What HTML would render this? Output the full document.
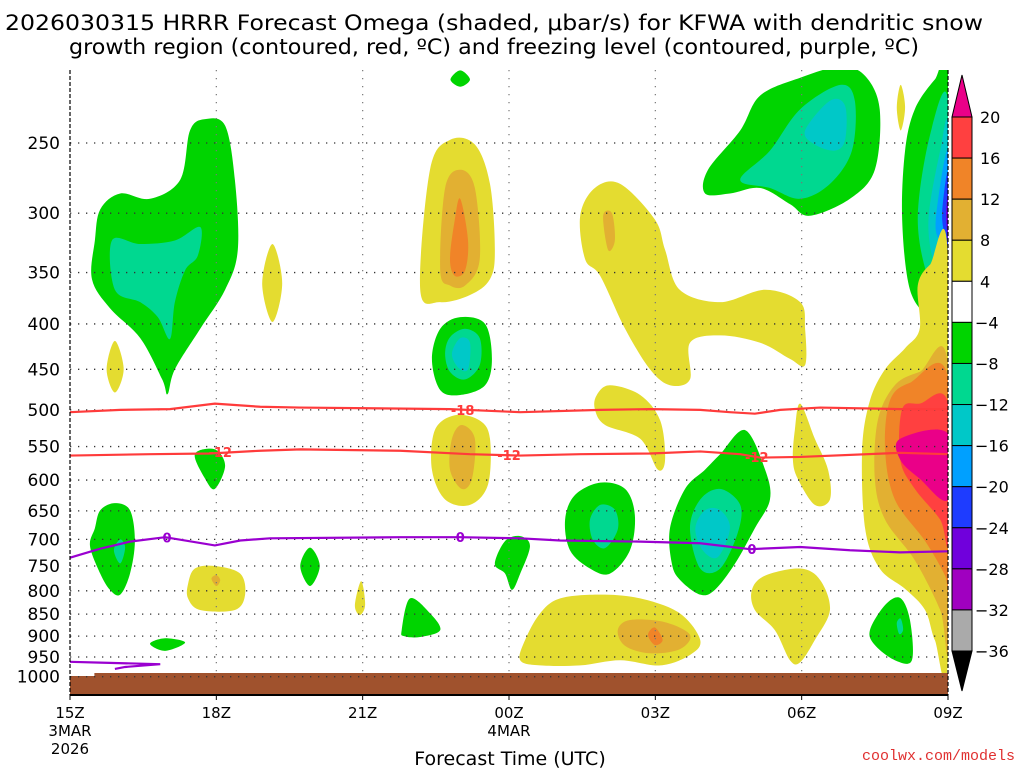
<!DOCTYPE html>
<html><head><meta charset="utf-8"><style>
body{margin:0;background:#fff;}
svg{display:block;font-family:"DejaVu Sans","Liberation Sans",sans-serif;}
</style></head><body>
<svg id="chart" width="1024" height="768" viewBox="0 0 1024 768" xmlns="http://www.w3.org/2000/svg">
<text x="494" y="30" font-size="21" text-anchor="middle" textLength="978" lengthAdjust="spacingAndGlyphs">2026030315 HRRR Forecast Omega (shaded, μbar/s) for KFWA with dendritic snow</text>
<text x="494" y="54" font-size="21" text-anchor="middle" textLength="850" lengthAdjust="spacingAndGlyphs">growth region (contoured, red, ºC) and freezing level (contoured, purple, ºC)</text>
<g id="fills"></g>
<g id="grid"></g>
<g id="lines"></g>
<g id="axes"></g>
<g id="cbar"></g>
<text x="510" y="765" font-size="19" text-anchor="middle">Forecast Time (UTC)</text>
<text x="1015" y="760" font-size="15" fill="#e03030" text-anchor="end" font-family="Liberation Mono, monospace">coolwx.com/models</text>
</svg>
<script>
const pLevels=[250,300,350,400,450,500,550,600,650,700,750,800,850,900,950,1000];
const hourTicks=[0,3,6,9,12,15,18];
const hourLabels=["15Z","18Z","21Z","00Z","03Z","06Z","09Z"];
const dateLabels=[["3MAR","2026"],[],[],["4MAR"],[],[],[]];
const cbarLevels=[20,16,12,8,4,-4,-8,-12,-16,-20,-24,-28,-32,-36];
const cbarColors=["#ff4040","#f08428","#e2b032","#e4dc30","#ffffff","#00d400","#00d890","#00c8c8","#00a0ff","#1e3cff","#7000dc","#a000c0","#aaaaaa"];
const levelColor={y:"#e4dc30",dy:"#e2b032",o:"#f08428",r:"#ff4040",m:"#ea0088",g:"#00d400",t:"#00d890",c:"#00c8c8",lb:"#00a0ff",b:"#1e3cff",p:"#7000dc"};
const blobs=[
["g",[[0.51,322],[0.62,297],[1.03,285],[1.64,289],[2.26,275],[2.46,242],[2.77,235],[3.18,239],[3.38,275],[3.44,330],[3.18,366],[2.67,405],[2.15,450],[2.0,480],[1.89,462],[1.44,415],[0.82,384],[0.45,356]]],
["t",[[0.86,322],[1.44,325],[2.15,322],[2.67,311],[2.62,335],[2.36,348],[2.15,378],[2.05,416],[1.8,393],[1.44,378],[0.92,366]]],
["g",[[13.02,285],[13.08,268],[13.74,242],[14.15,221],[14.97,211],[15.79,205],[16.3,210],[16.6,229],[16.5,268],[15.99,289],[15.17,302],[14.76,293],[14.15,281],[13.53,285]]],
["t",[[13.74,275],[14.35,255],[14.97,229],[15.79,215],[16.09,224],[16.03,255],[15.58,278],[14.97,289],[14.35,281]]],
["c",[[15.07,242],[15.58,224],[15.89,227],[15.89,248],[15.68,255],[15.27,251]]],
["g",[[17.12,255],[17.32,229],[17.73,212],[18,207],[18,393],[17.63,393],[17.22,366],[17.06,305]]],
["t",[[17.38,305],[17.63,245],[18,224],[18,378],[17.63,360]]],
["c",[[17.6,305],[17.84,255],[18,240],[18,366],[17.73,345]]],
["lb",[[17.75,305],[18,255],[18,348],[17.84,325]]],
["b",[[17.88,300],[18,270],[18,335],[17.94,320]]],
["p",[[17.96,300],[18,285],[18,322],[17.98,315]]],
["y",[[16.95,228],[17.03,215],[17.12,228],[17.03,242]]],
["y",[[18,336],[17.63,343],[17.38,362],[17.42,405],[17.12,426],[16.71,450],[16.4,488],[16.24,554],[16.3,680],[16.6,755],[17.12,796],[17.53,841],[17.73,909],[18,945]]],
["dy",[[18,445],[17.42,453],[16.91,469],[16.56,514],[16.5,598],[16.71,665],[17.32,739],[17.84,841],[18,909]]],
["o",[[18,460],[17.22,466],[16.81,488],[16.71,554],[16.91,631],[17.53,703],[17.94,769],[18,796]]],
["r",[[18,492],[17.42,492],[17.06,499],[17.02,569],[17.32,614],[17.84,665],[18,703]]],
["m",[[18,532],[17.02,539],[17.02,569],[17.42,598],[18,631]]],
["g",[[16.4,886],[16.71,830],[17.02,815],[17.22,863],[17.26,958],[16.91,958],[16.5,921]]],
["t",[[16.95,870],[17.03,860],[17.08,885],[17.0,895]]],
["y",[[7.18,366],[7.38,268],[7.79,248],[8.3,251],[8.61,278],[8.71,330],[8.61,356],[8.2,371],[7.59,378]]],
["dy",[[7.59,348],[7.69,281],[8.0,268],[8.3,281],[8.4,338],[8.1,362],[7.79,362]]],
["o",[[7.79,338],[7.89,305],[8.0,289],[8.16,322],[8.1,348],[7.89,353]]],
["g",[[7.8,212],[8.0,207],[8.2,212],[8.0,216]]],
["g",[[7.42,438],[7.59,405],[8.0,393],[8.51,400],[8.65,438],[8.51,469],[8.0,481],[7.59,475]]],
["t",[[7.69,432],[7.79,414],[8.1,405],[8.4,415],[8.4,445],[8.1,462],[7.79,453]]],
["c",[[7.83,432],[8.0,415],[8.2,420],[8.16,450],[7.96,448]]],
["y",[[7.42,584],[7.48,527],[7.89,507],[8.4,514],[8.61,539],[8.57,607],[8.2,640],[7.69,631]]],
["dy",[[7.79,584],[7.83,539],[8.03,520],[8.3,539],[8.24,598],[8.03,614]]],
["y",[[0.75,450],[0.92,418],[1.1,450],[0.92,478]]],
["y",[[3.94,360],[4.15,325],[4.35,360],[4.15,398]]],
["g",[[2.56,561],[2.97,554],[3.18,578],[2.97,614],[2.77,598]]],
["g",[[0.51,680],[0.62,649],[0.92,637],[1.23,649],[1.33,703],[1.23,765],[1.03,808],[0.82,798],[0.62,765],[0.41,712]]],
["t",[[0.9,720],[1.03,700],[1.13,715],[1.03,745]]],
["y",[[2.42,786],[2.56,755],[2.97,750],[3.49,765],[3.59,808],[3.38,841],[2.67,841],[2.42,816]]],
["dy",[[2.9,775],[3.0,768],[3.08,778],[3.0,790]]],
["g",[[4.72,750],[4.92,715],[5.12,750],[4.92,790]]],
["y",[[5.84,830],[5.97,780],[6.05,830],[5.94,852]]],
["g",[[6.8,886],[6.97,816],[7.38,848],[7.59,886],[7.18,902],[6.85,900]]],
["g",[[8.71,746],[8.92,703],[9.23,694],[9.43,712],[9.23,765],[9.06,798],[8.92,765]]],
["g",[[10.15,665],[10.35,624],[10.87,604],[11.38,614],[11.58,657],[11.48,720],[11.07,765],[10.66,755],[10.25,720]]],
["t",[[10.66,665],[10.87,640],[11.17,648],[11.23,682],[10.97,716],[10.72,701]]],
["g",[[12.3,680],[12.61,614],[13.02,584],[13.33,561],[13.84,527],[14.25,584],[14.35,631],[14.04,680],[13.63,746],[13.22,798],[12.92,808],[12.51,778],[12.34,746]]],
["t",[[12.71,680],[12.92,631],[13.33,614],[13.74,640],[13.69,688],[13.33,755],[12.92,755]]],
["c",[[12.82,680],[13.02,649],[13.33,649],[13.53,680],[13.28,733],[12.97,720]]],
["y",[[10.46,302],[10.76,281],[11.28,278],[11.99,305],[12.2,330],[12.5,366],[13.33,378],[14.25,366],[14.97,378],[15.07,405],[15.07,445],[14.76,438],[14.15,420],[13.33,412],[12.71,420],[12.71,462],[12.3,469],[11.89,450],[11.38,405],[10.87,353],[10.56,338]]],
["dy",[[10.93,302],[11.11,300],[11.17,322],[11.03,330]]],
["y",[[10.8,481],[11.07,469],[11.69,481],[12.1,514],[12.2,569],[12.05,584],[11.69,539],[10.97,520],[10.76,499]]],
["y",[[14.86,527],[14.97,492],[15.27,539],[15.54,584],[15.58,631],[15.27,640],[14.92,598],[14.82,569]]],
["y",[[13.98,798],[14.25,769],[14.97,755],[15.38,778],[15.58,841],[15.27,909],[14.97,963],[14.76,958],[14.45,886],[14.04,841]]],
["y",[[9.23,958],[9.33,909],[9.64,848],[10.05,816],[10.87,808],[11.69,816],[12.5,848],[12.92,909],[12.71,945],[12.1,971],[11.28,958],[10.46,971],[9.64,971]]],
["dy",[[11.23,886],[11.48,863],[12.2,868],[12.71,897],[12.5,931],[11.89,941],[11.38,923]]],
["o",[[11.85,897],[11.99,880],[12.15,909],[11.99,921]]],
["g",[[1.64,918],[1.95,905],[2.36,915],[1.95,935]]]
];
const redLineA=[[0,503],[1.03,500],[2.05,499],[2.97,492],[3.9,496],[4.72,497],[7.79,499],[9.23,503],[10.87,500],[11.89,499],[12.92,500],[13.53,503],[14.04,505],[14.56,500],[15.38,497],[17.02,499],[18,499]];
const redLineB=[[0,563],[1.64,561],[2.87,560],[3.9,556],[4.72,554],[6.77,556],[8.2,561],[9.23,563],[10.46,561],[11.89,560],[12.92,557],[13.74,561],[14.15,566],[14.97,565],[17.02,559],[18,561]];
const redLabels=[[8.05,500,"-18"],[3.08,558,"-12"],[9.0,562,"-12"],[14.08,565,"-12"]];
const purpleLine=[[0,734],[0.62,717],[1.23,704],[1.95,696],[2.97,711],[3.49,702],[4.1,698],[6.77,696],[8.0,696],[9.23,698],[10.05,702],[11.69,704],[12.92,707],[13.94,718],[14.97,714],[15.99,720],[17.02,724],[18,722]];
const purpleLabels=[[1.99,697,"0"],[8.0,696,"0"],[13.98,718,"0"]];
const purpleSfc=[[0,962],[0.62,964],[1.85,968],[1.13,975],[0.92,980]];

const X0=70,X1=948,Y250=143,SC=385;
const xs=h=>X0+h*(X1-X0)/18;
const ys=p=>Y250+Math.log(p/250)*SC;
const NS="http://www.w3.org/2000/svg";
function mk(tag,attrs,parent){const e=document.createElementNS(NS,tag);for(const k in attrs)e.setAttribute(k,attrs[k]);parent.appendChild(e);return e;}
function smooth(pts){const P=pts.map(([h,p])=>[xs(h),ys(p)]);const n=P.length;let d=`M${P[0][0]},${P[0][1]}`;
for(let i=0;i<n;i++){const p0=P[(i-1+n)%n],p1=P[i],p2=P[(i+1)%n],p3=P[(i+2)%n];
d+=`C${p1[0]+(p2[0]-p0[0])/6},${p1[1]+(p2[1]-p0[1])/6} ${p2[0]-(p3[0]-p1[0])/6},${p2[1]-(p3[1]-p1[1])/6} ${p2[0]},${p2[1]}`;}return d+"Z";}
function linePath(pts){return pts.map(([h,p],i)=>(i?"L":"M")+xs(h)+","+ys(p)).join("");}
const svg=document.getElementById("chart");
const defs=mk("defs",{},svg);
const cp=mk("clipPath",{id:"plotclip"},defs);mk("rect",{x:X0,y:70,width:X1-X0,height:625},cp);
const fills=document.getElementById("fills");fills.setAttribute("clip-path","url(#plotclip)");
blobs.forEach(([lv,pts])=>{const e=mk("path",{d:smooth(pts),fill:levelColor[lv]},fills);

});
// ground
const g1=mk("path",{d:`M${X0},676 L${xs(0.5)},676 L${xs(0.5)},673 L${X1},673 L${X1},695 L${X0},695Z`,fill:"#a0522d"},fills);


// grid
const grid=document.getElementById("grid");
pLevels.forEach(p=>{const e=mk("line",{x1:X0,x2:X1,y1:ys(p),y2:ys(p),stroke:"#333","stroke-width":1.3,"stroke-dasharray":"1.3 6.7"},grid);

});
hourTicks.slice(1,-1).forEach(h=>{const e=mk("line",{x1:xs(h),x2:xs(h),y1:70,y2:673,stroke:"#777","stroke-width":1.2,"stroke-dasharray":"1.3 6.7"},grid);

});
// lines
const lines=document.getElementById("lines");
[[redLineA,"#ff3b3b"],[redLineB,"#ff3b3b"],[purpleLine,"#9a00d0"]].forEach(([d,c])=>{const e=mk("path",{d:linePath(d),fill:"none",stroke:c,"stroke-width":2.2},lines);

});
{const e=mk("path",{d:linePath(purpleSfc),fill:"none",stroke:"#9a00d0","stroke-width":2.2},lines);

}
function lab(arr,c){arr.forEach(([h,p,t])=>{const x=xs(h),y=ys(p);
mk("rect",{x:x-11,y:y-7,width:22,height:14,fill:"#fff",opacity:0},lines);
const e=mk("text",{x:x,y:y+5,"font-size":13,"font-weight":"bold",fill:c,"text-anchor":"middle"},lines);e.textContent=t;

});}
lab(redLabels,"#ff3b3b");lab(purpleLabels,"#9a00d0");
// axes
const ax=document.getElementById("axes");
mk("line",{x1:X0,x2:X0,y1:70,y2:695,stroke:"#000","stroke-width":1.2,"stroke-dasharray":"4 2"},ax);
mk("line",{x1:X1,x2:X1,y1:70,y2:695,stroke:"#000","stroke-width":1.2,"stroke-dasharray":"4 2"},ax);
mk("line",{x1:X0,x2:X1,y1:695,y2:695,stroke:"#000","stroke-width":2},ax);
pLevels.forEach(p=>{const e=mk("text",{x:60,y:ys(p)+6,"font-size":17,"text-anchor":"end"},ax);e.textContent=p;

});
hourTicks.forEach((h,i)=>{mk("line",{x1:xs(h),x2:xs(h),y1:695,y2:700,stroke:"#000"},ax);
const e=mk("text",{x:xs(h),y:718,"font-size":15,"text-anchor":"middle"},ax);e.textContent=hourLabels[i];


dateLabels[i].forEach((t,j)=>{const d=mk("text",{x:xs(h),y:736+j*18,"font-size":15,"text-anchor":"middle"},ax);d.textContent=t;

});});
// colorbar
const cb=document.getElementById("cbar");
const CX=952,CW=20,CT=117,CS=(651-117)/13;
mk("path",{d:`M${CX},${CT} L${CX+CW/2},75 L${CX+CW},${CT}Z`,fill:"#ea0088",stroke:"#000"},cb);
mk("path",{d:`M${CX},651 L${CX+CW/2},691 L${CX+CW},651Z`,fill:"#000",stroke:"#000"},cb);
cbarColors.forEach((c,i)=>{const e=mk("rect",{x:CX,y:CT+i*CS,width:CW,height:CS,fill:c,stroke:"#000","stroke-width":1},cb);

});
cbarLevels.forEach((v,i)=>{const e=mk("text",{x:v<0?975:980,y:CT+i*CS+6,"font-size":16},cb);e.textContent=v<0?"−"+(-v):v;

});
</script>
</body></html>
